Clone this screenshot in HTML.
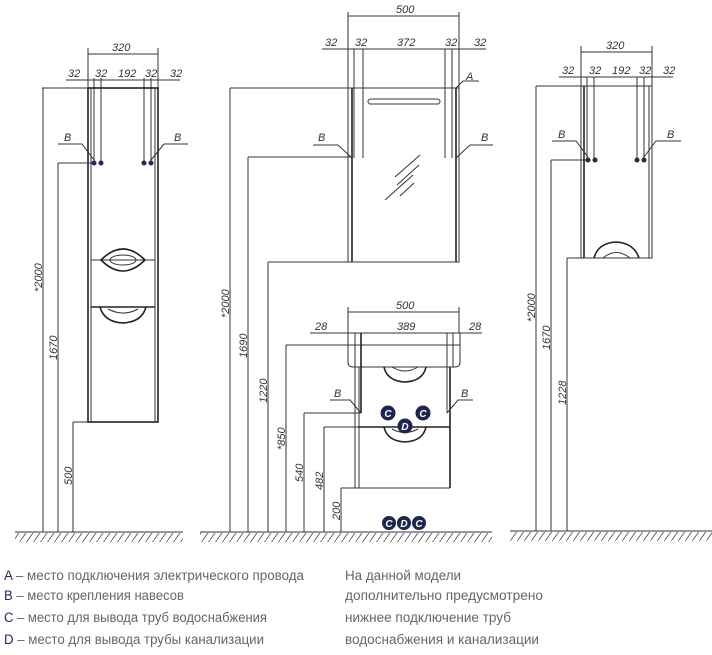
<!DOCTYPE html>
<html><head><meta charset="utf-8"><style>
html,body{margin:0;padding:0;background:#fff;}
svg{display:block}
.l{stroke:#333;stroke-width:1;fill:none}
.t{stroke:#222;stroke-width:1.6;fill:none}
.th{stroke:#777;stroke-width:0.8;fill:none}
.d{font-family:"Liberation Sans",sans-serif;font-style:italic;font-size:11px;fill:#333}
.g{font-family:"Liberation Sans",sans-serif;font-size:13.5px;fill:#666}
.k{fill:#1f2a55}
.c{fill:#1d2650}
.ct{font-family:"Liberation Sans",sans-serif;font-style:italic;font-weight:bold;font-size:10px;fill:#fff;text-anchor:middle}
</style></head><body>
<svg width="712" height="655" viewBox="0 0 712 655" xmlns="http://www.w3.org/2000/svg">
<defs>
<pattern id="h" width="7" height="10" patternUnits="userSpaceOnUse">
<line x1="7" y1="0" x2="0" y2="10" stroke="#555" stroke-width="0.9"/>
</pattern>
</defs>

<!-- ===== LEFT CABINET ===== -->
<g>
<line class="l" x1="88" y1="48" x2="88" y2="88"/><line class="l" x1="158" y1="48" x2="158" y2="88"/>
<line class="l" x1="88" y1="54" x2="158" y2="54"/>
<text class="d" x="112" y="51">320</text>
<line class="l" x1="66" y1="80" x2="180" y2="80"/>
<text class="d" x="68" y="77">32</text><text class="d" x="95" y="77">32</text><text class="d" x="118" y="77">192</text><text class="d" x="145" y="77">32</text><text class="d" x="170" y="77">32</text>
<line class="l" x1="94" y1="78" x2="94" y2="163"/><line class="l" x1="101" y1="78" x2="101" y2="163"/>
<line class="l" x1="144" y1="78" x2="144" y2="163"/><line class="l" x1="151" y1="78" x2="151" y2="163"/>
<rect class="t" x="88" y="88" width="70" height="334"/>
<line class="l" x1="91" y1="88" x2="91" y2="422"/><line class="l" x1="155" y1="88" x2="155" y2="422"/>
<line class="l" x1="91" y1="260" x2="155" y2="260"/><line class="t" x1="91" y1="307" x2="155" y2="307"/>
<path class="t" d="M101 260 Q123 238 145 260 Q123 282 101 260Z"/>
<ellipse class="l" cx="123" cy="260" rx="13" ry="5"/>
<path class="t" d="M100 307 Q104 322 123 323 Q142 322 146 307"/>
<path class="l" d="M108 309 Q123 317 138 309"/>
<circle class="k" cx="94" cy="163" r="2.5"/><circle class="k" cx="101" cy="163" r="2.5"/>
<circle class="k" cx="144" cy="163" r="2.5"/><circle class="k" cx="151" cy="163" r="2.5"/>
<text class="d" x="64" y="141" font-size="12">B</text><polyline class="l" points="58,144 82,144 94,160"/>
<text class="d" x="174" y="141" font-size="12">B</text><polyline class="l" points="188,144 164,144 151,160"/>
<line class="l" x1="42" y1="88" x2="88" y2="88"/><line class="l" x1="43" y1="88" x2="43" y2="532"/>
<line class="l" x1="58" y1="163" x2="94" y2="163"/><line class="l" x1="58" y1="163" x2="58" y2="532"/>
<line class="l" x1="73" y1="422" x2="88" y2="422"/><line class="l" x1="73" y1="422" x2="73" y2="532"/>
<text class="d" transform="translate(42,292) rotate(-90)">*2000</text>
<text class="d" transform="translate(57,360) rotate(-90)">1670</text>
<text class="d" transform="translate(72,485) rotate(-90)">500</text>
<line class="l" x1="15" y1="532" x2="183" y2="532"/>
<rect x="15" y="533" width="168" height="9" fill="url(#h)"/>
</g>

<!-- ===== MIDDLE ===== -->
<g>
<line class="l" x1="348" y1="12" x2="348" y2="88"/><line class="l" x1="459" y1="12" x2="459" y2="88"/>
<line class="l" x1="348" y1="16" x2="459" y2="16"/>
<text class="d" x="396" y="13">500</text>
<line class="l" x1="322" y1="49" x2="486" y2="49"/>
<text class="d" x="325" y="46">32</text><text class="d" x="355" y="46">32</text><text class="d" x="397" y="46">372</text><text class="d" x="445" y="46">32</text><text class="d" x="474" y="46">32</text>
<line class="l" x1="354" y1="49" x2="354" y2="158"/><line class="l" x1="363" y1="49" x2="363" y2="158"/>
<line class="l" x1="445" y1="49" x2="445" y2="158"/><line class="l" x1="452" y1="49" x2="452" y2="158"/>
<rect class="l" x="348" y="88" width="111" height="174"/>
<line class="t" x1="352" y1="88" x2="352" y2="262"/><line class="t" x1="456" y1="88" x2="456" y2="262"/>
<rect class="l" x="368" y="99" width="72" height="5" rx="2.5"/>
<line class="l" x1="395" y1="177" x2="420" y2="155"/><line class="l" x1="397" y1="185" x2="419" y2="165"/><line class="l" x1="385" y1="200" x2="413" y2="175"/><line class="l" x1="400" y1="196" x2="414" y2="183"/>
<text class="d" x="466" y="80" font-size="12">A</text><polyline class="l" points="479,81 463,81 456,88"/>
<text class="d" x="318" y="141" font-size="12">B</text><polyline class="l" points="313,145 338,145 352,158"/>
<text class="d" x="481" y="141" font-size="12">B</text><polyline class="l" points="493,145 470,145 456,158"/>
<line class="l" x1="230" y1="88" x2="348" y2="88"/><line class="l" x1="230" y1="88" x2="230" y2="532"/>
<line class="l" x1="248" y1="157" x2="352" y2="157"/><line class="l" x1="248" y1="157" x2="248" y2="532"/>
<line class="l" x1="268" y1="262" x2="348" y2="262"/><line class="l" x1="268" y1="262" x2="268" y2="532"/>
<line class="l" x1="286" y1="345" x2="348" y2="345"/><line class="l" x1="286" y1="345" x2="286" y2="532"/>
<line class="l" x1="304" y1="413" x2="361" y2="413"/><line class="l" x1="304" y1="413" x2="304" y2="532"/>
<line class="l" x1="324" y1="427" x2="358" y2="427"/><line class="l" x1="324" y1="427" x2="324" y2="532"/>
<line class="l" x1="341" y1="488" x2="358" y2="488"/><line class="l" x1="341" y1="488" x2="341" y2="532"/>
<text class="d" transform="translate(229,318) rotate(-90)">*2000</text>
<text class="d" transform="translate(247,358) rotate(-90)">1690</text>
<text class="d" transform="translate(267,403) rotate(-90)">1220</text>
<text class="d" transform="translate(285,450) rotate(-90)">*850</text>
<text class="d" transform="translate(303,482) rotate(-90)">540</text>
<text class="d" transform="translate(323,490) rotate(-90)">482</text>
<text class="d" transform="translate(340,520) rotate(-90)">200</text>
<!-- vanity -->
<line class="l" x1="348" y1="307" x2="348" y2="333"/><line class="l" x1="459" y1="307" x2="459" y2="333"/>
<line class="l" x1="348" y1="312" x2="459" y2="312"/>
<text class="d" x="396" y="309">500</text>
<line class="l" x1="310" y1="333" x2="482" y2="333"/>
<text class="d" x="315" y="330">28</text><text class="d" x="397" y="330">389</text><text class="d" x="469" y="330">28</text>
<path class="l" d="M348 333 L348 362 Q348 367 353 367 L455 367 Q460 367 460 362 L460 333"/>
<line class="l" x1="348" y1="345" x2="460" y2="345"/>
<line class="l" x1="355" y1="333" x2="355" y2="488"/><line class="l" x1="359" y1="367" x2="359" y2="488"/>
<line class="t" x1="361" y1="333" x2="361" y2="413"/>
<line class="l" x1="447" y1="333" x2="447" y2="413"/><line class="l" x1="453" y1="333" x2="453" y2="367"/>
<line class="t" x1="450" y1="367" x2="450" y2="488"/>
<line class="l" x1="358" y1="488" x2="450" y2="488"/>
<line class="t" x1="358" y1="427" x2="450" y2="427"/>
<path class="t" d="M384 367 Q387 381 405 382 Q423 381 426 367"/>
<path class="l" d="M392 367 Q405 375 418 367"/>
<path class="t" d="M384 427 Q387 441 405 442 Q423 441 426 427"/>
<path class="l" d="M392 429 Q405 436 418 429"/>
<text class="d" x="334" y="397" font-size="12">B</text><polyline class="l" points="330,400 350,400 361,413"/>
<text class="d" x="461" y="397" font-size="12">B</text><polyline class="l" points="473,400 458,400 447,413"/>
<circle class="c" cx="388" cy="413" r="7.5"/><text class="ct" x="388" y="417">C</text>
<circle class="c" cx="423" cy="413" r="7.5"/><text class="ct" x="423" y="417">C</text>
<circle class="c" cx="405" cy="426" r="7.5"/><text class="ct" x="405" y="430">D</text>
<circle class="c" cx="389" cy="523" r="7"/><text class="ct" x="389" y="527">C</text>
<circle class="c" cx="404" cy="523" r="7"/><text class="ct" x="404" y="527">D</text>
<circle class="c" cx="419" cy="523" r="7"/><text class="ct" x="419" y="527">C</text>
<line class="l" x1="200" y1="532" x2="492" y2="532"/>
<rect x="200" y="533" width="292" height="9" fill="url(#h)"/>
</g>

<!-- ===== RIGHT CABINET ===== -->
<g>
<line class="l" x1="581" y1="46" x2="581" y2="86"/><line class="l" x1="652" y1="46" x2="652" y2="86"/>
<line class="l" x1="581" y1="52" x2="652" y2="52"/>
<text class="d" x="606" y="49">320</text>
<line class="l" x1="559" y1="77" x2="673" y2="77"/>
<text class="d" x="562" y="74">32</text><text class="d" x="589" y="74">32</text><text class="d" x="612" y="74">192</text><text class="d" x="639" y="74">32</text><text class="d" x="663" y="74">32</text>
<line class="l" x1="587" y1="77" x2="587" y2="160"/><line class="l" x1="594" y1="77" x2="594" y2="160"/>
<line class="l" x1="637" y1="77" x2="637" y2="160"/><line class="l" x1="644" y1="77" x2="644" y2="160"/>
<rect class="l" x="581" y="86" width="71" height="172"/>
<line class="t" x1="584" y1="86" x2="584" y2="258"/><line class="l" x1="649" y1="86" x2="649" y2="258"/>
<path class="t" d="M594 258 Q598 243 616 242 Q634 243 639 258"/>
<path class="l" d="M603 258 Q616 247 630 258"/>
<circle class="k" cx="588" cy="160" r="2.5"/><circle class="k" cx="595" cy="160" r="2.5"/>
<circle class="k" cx="637" cy="160" r="2.5"/><circle class="k" cx="644" cy="160" r="2.5"/>
<text class="d" x="558" y="138" font-size="12">B</text><polyline class="l" points="552,141 576,141 588,157"/>
<text class="d" x="667" y="138" font-size="12">B</text><polyline class="l" points="681,141 656,141 644,157"/>
<line class="l" x1="536" y1="86" x2="581" y2="86"/><line class="l" x1="536" y1="86" x2="536" y2="531"/>
<line class="l" x1="551" y1="160" x2="588" y2="160"/><line class="l" x1="551" y1="160" x2="551" y2="531"/>
<line class="l" x1="567" y1="258" x2="594" y2="258"/><line class="l" x1="567" y1="258" x2="567" y2="531"/>
<text class="d" transform="translate(535,322) rotate(-90)">*2000</text>
<text class="d" transform="translate(550,350) rotate(-90)">1670</text>
<text class="d" transform="translate(566,405) rotate(-90)">1228</text>
<line class="l" x1="510" y1="531" x2="712" y2="531"/>
<rect x="510" y="532" width="202" height="9" fill="url(#h)"/>
</g>

<!-- ===== LEGEND ===== -->
<text class="g" x="4" y="580" textLength="300" lengthAdjust="spacingAndGlyphs"><tspan fill="#1f2a55">A</tspan> – место подключения электрического провода</text>
<text class="g" x="4" y="600" textLength="180" lengthAdjust="spacingAndGlyphs"><tspan fill="#1f2a55">B</tspan> – место крепления навесов</text>
<text class="g" x="4" y="622" textLength="263" lengthAdjust="spacingAndGlyphs"><tspan fill="#1f2a55">C</tspan> – место для вывода труб водоснабжения</text>
<text class="g" x="4" y="644" textLength="260" lengthAdjust="spacingAndGlyphs"><tspan fill="#1f2a55">D</tspan> – место для вывода трубы канализации</text>
<text class="g" x="345" y="580" textLength="116" lengthAdjust="spacingAndGlyphs">На данной модели</text>
<text class="g" x="345" y="600" textLength="198" lengthAdjust="spacingAndGlyphs">дополнительно предусмотрено</text>
<text class="g" x="345" y="622" textLength="166" lengthAdjust="spacingAndGlyphs">нижнее подключение труб</text>
<text class="g" x="345" y="644" textLength="194" lengthAdjust="spacingAndGlyphs">водоснабжения и канализации</text>
</svg>
</body></html>
